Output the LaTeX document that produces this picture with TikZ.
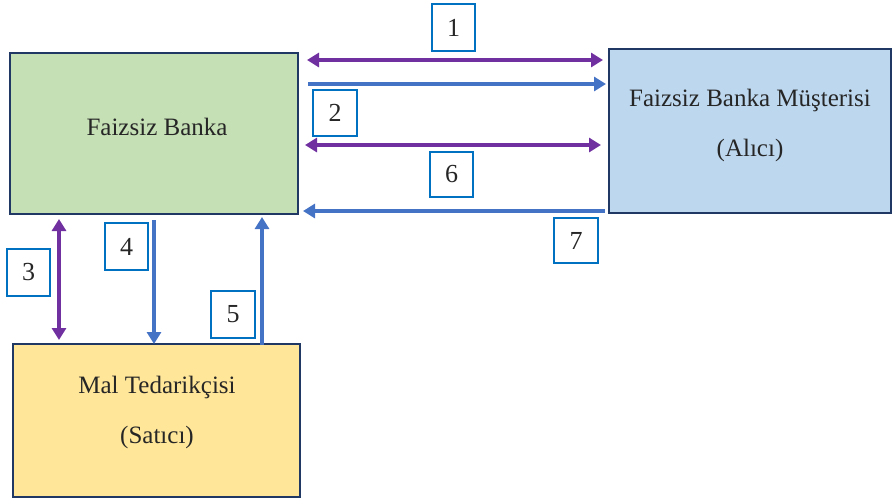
\documentclass[tikz,border=0pt]{standalone}
\usepackage{fontspec}
\setmainfont{Liberation Serif}
\newfontfamily\tnr{Liberation Serif}
\usetikzlibrary{arrows.meta}
\definecolor{bgreen}{HTML}{C5E0B4}
\definecolor{bblue}{HTML}{BDD7EE}
\definecolor{byellow}{HTML}{FFE699}
\definecolor{navy}{HTML}{1F3864}
\definecolor{purp}{HTML}{7030A0}
\definecolor{ablue}{HTML}{4472C4}
\definecolor{lblue}{HTML}{0070C0}
\tikzset{
  mainbox/.style={draw=navy, line width=2.2pt},
  lbl/.style={draw=lblue, line width=2.2pt, fill=white, inner sep=0pt, font=\tnr\fontsize{26}{30}\selectfont, text=black!85},
  txt/.style={font=\tnr\fontsize{25}{30}\selectfont, text=black!85},
  parrow/.style={draw=purp, line width=4pt, {Triangle[length=12pt,width=14pt]}-{Triangle[length=12pt,width=14pt]}},
  barrow/.style={draw=ablue, line width=4pt, -{Triangle[length=12pt,width=14pt]}}
}
\begin{document}
\begin{tikzpicture}[x=1pt,y=-1pt]
\useasboundingbox (0,0) rectangle (893,499);
% main boxes
\path[mainbox, fill=bgreen] (10,53) rectangle (298,214);
\path[mainbox, fill=bblue] (609,49) rectangle (891,213);
\path[mainbox, fill=byellow] (13,344) rectangle (300,497);
\node[txt] (fb) at (157,127) {Faizsiz Banka};
\node[txt] (m1) at (750,100) {Faizsiz Banka Müşterisi};
\node[txt] (m2) at (750,150) {(Alıcı)};
\node[txt] (s1) at (157,387) {Mal Tedarikçisi};
\node[txt] (s2) at (157,437) {(Satıcı)};
% connector end points
\coordinate (a1l) at (307,60);  \coordinate (a1r) at (603,60);
\coordinate (a2l) at (308,84);  \coordinate (a2r) at (606,84);
\coordinate (a3l) at (305,145); \coordinate (a3r) at (601,145);
\coordinate (a4l) at (303,211); \coordinate (a4r) at (605,211);
\coordinate (v1t) at (59,219);  \coordinate (v1b) at (59,340);
\coordinate (v2t) at (154,220); \coordinate (v2b) at (154,344);
\coordinate (v3t) at (262,217); \coordinate (v3b) at (262,345);
\draw[parrow] (a1l) -- (a1r);
\draw[barrow] (a2l) -- (a2r);
\draw[parrow] (a3l) -- (a3r);
\draw[barrow] (a4r) -- (a4l);
\draw[parrow] (v1t) -- (v1b);
\draw[barrow] (v2t) -- (v2b);
\draw[barrow] (v3b) -- (v3t);
% labels
\node[lbl, minimum width=43pt, minimum height=47pt] (l1) at (453.5,27.5) {1};
\node[lbl, minimum width=44pt, minimum height=46pt] (l2) at (335,113) {2};
\node[lbl, minimum width=43pt, minimum height=47pt] (l3) at (28.5,272.5) {3};
\node[lbl, minimum width=43pt, minimum height=47pt] (l4) at (126.5,246.5) {4};
\node[lbl, minimum width=44pt, minimum height=47pt] (l5) at (233,314.5) {5};
\node[lbl, minimum width=43pt, minimum height=45pt] (l6) at (451.5,174.5) {6};
\node[lbl, minimum width=44pt, minimum height=45pt] (l7) at (576,240.5) {7};
\end{tikzpicture}
\end{document}
